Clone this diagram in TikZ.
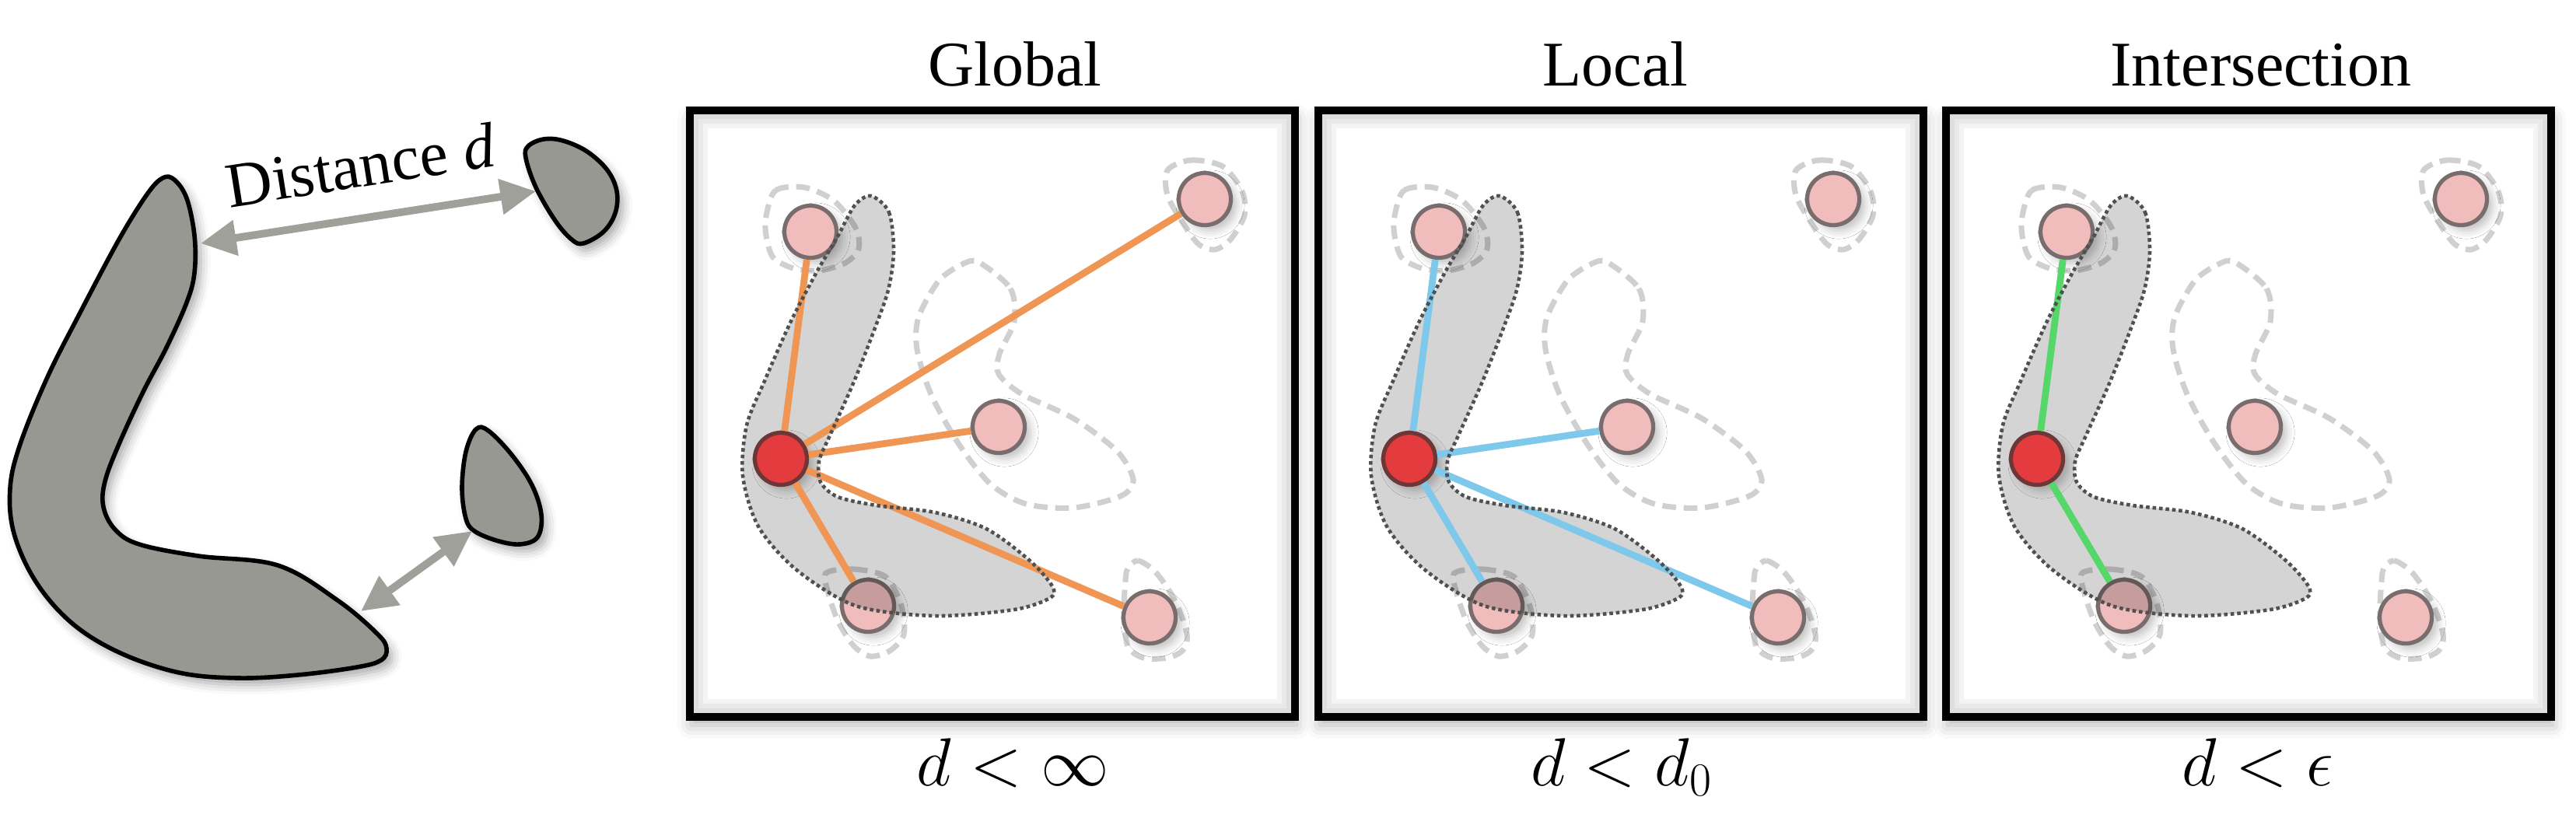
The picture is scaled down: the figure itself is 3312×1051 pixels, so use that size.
\documentclass[tikz,border=0pt]{standalone}
\usepackage{fontspec}
\setmainfont{Liberation Serif}
\usetikzlibrary{arrows.meta,shadows.blur}
\definecolor{shapegray}{RGB}{152,152,147}
\definecolor{arrowgray}{RGB}{160,160,155}
\definecolor{pinkfill}{RGB}{240,188,188}
\definecolor{pinkdraw}{RGB}{120,108,108}
\definecolor{redfill}{RGB}{228,60,62}
\definecolor{reddraw}{RGB}{110,55,55}
\definecolor{edgeorange}{RGB}{240,150,85}
\definecolor{edgeblue}{RGB}{125,200,235}
\definecolor{edgegreen}{RGB}{85,215,105}
\definecolor{dashgray}{RGB}{208,208,208}
\definecolor{dotgray}{RGB}{80,80,80}
\tikzset{
  every node/.style={inner sep=0pt},
  blobshape/.style={fill=shapegray, draw=black, line width=1.6pt,
    blur shadow={shadow xshift=2pt, shadow yshift=-2.5pt, shadow blur radius=3.5pt, shadow opacity=35}},
  distarrow/.style={draw=arrowgray, line width=2.8pt,
    {Triangle[length=13pt,width=12.5pt]}-{Triangle[length=13pt,width=12.5pt]}},
  panelbox/.style={draw=black, line width=3pt, fill=white,
    blur shadow={shadow xshift=0.5pt, shadow yshift=-3pt, shadow blur radius=5pt, shadow opacity=30}},
  pinknode/.style={circle, minimum size=0.67cm, fill=pinkfill, draw=pinkdraw, line width=1.5pt,
    blur shadow={shadow xshift=2pt, shadow yshift=-2pt, shadow blur radius=3pt, shadow opacity=25}},
  rednode/.style={pinknode, fill=redfill, draw=reddraw},
  edgeline/.style={line width=2.5pt},
  region/.style={fill=black, fill opacity=0.17},
  regionline/.style={draw=dotgray, line width=1.3pt, dash pattern=on 1.3pt off 1.1pt},
  dashline/.style={draw=dashgray, line width=2pt, dash pattern=on 5pt off 2.8pt},
  title/.style={font=\fontsize{23.3}{28}\selectfont, anchor=base},
  mathlabel/.style={font=\fontsize{26}{31}\selectfont, anchor=base},
}
\newcommand\regionpath{plot[smooth cycle] coordinates {(233,110) (256,131) (262,181) (255,231) (236,285) (210,351) (180,418) (166,451) (168,478) (190,497) (240,508) (315,517) (381,538) (437,579) (466,612) (463,627) (417,642) (315,650) (213,637) (136,590) (88,535) (68,470) (73,405) (96,348) (130,271) (163,208) (190,162) (212,122)}}
\newcommand\drawpanel[4]{%
\begin{scope}[shift={(#2,142)}]
  \draw[panelbox] (0,0) rectangle (778,780);
  \begin{scope}
    \clip (0,0) rectangle (778,780);
    \draw[black, opacity=0.045, line width=3.4pt] (5,5) rectangle (773,775);
    \draw[black, opacity=0.045, line width=6.8pt] (5,5) rectangle (773,775);
    \draw[black, opacity=0.045, line width=10.2pt] (5,5) rectangle (773,775);
  \end{scope}
  \draw[dashline] plot[smooth cycle] coordinates {(371,195) (412,229) (417,271) (398,313) (397,339) (427,365) (493,396) (549,438) (570,475) (554,496) (493,511) (432,506) (386,480) (345,428) (310,365) (292,307) (294,266) (320,219) (350,198)};
  \draw[dashline, shift={(155,156)}] plot[smooth cycle] coordinates {(-57,-20) (-45,-53) (-8,-57) (30,-40) (58,-5) (62,22) (45,40) (12,50) (-22,47) (-48,33) (-57,5)};
  \draw[dashline, shift={(662,114)}] plot[smooth cycle] coordinates {(-48,-37) (-18,-50) (23,-42) (48,-10) (51,21) (33,52) (13,65) (-8,58) (-28,31) (-48,-5)};
  \draw[dashline, shift={(229,637)}] plot[smooth cycle] coordinates {(-54,-42) (-18,-47) (23,-37) (43,0) (46,37) (28,58) (3,65) (-18,52) (-38,21) (-51,-16)};
  \draw[dashline, shift={(591,652)}] plot[smooth cycle] coordinates {(-28,-63) (-15,-73) (8,-58) (33,-21) (48,21) (43,42) (23,52) (-8,52) (-28,37) (-33,-5) (-31,-47)};
  \node[pinknode] (#1tl) at (155,156) {};
  \node[pinknode] (#1tr) at (662,114) {};
  \node[pinknode] (#1m)  at (397,407) {};
  \node[pinknode] (#1bl) at (229,637) {};
  \node[pinknode] (#1br) at (591,652) {};
  \fill[region] \regionpath;
  \node[rednode] (#1red) at (117,448) {};
  \foreach \tgt in {#4} \draw[edgeline, draw=#3] (#1red) -- (#1\tgt);
  \draw[regionline] \regionpath;
\end{scope}}
\begin{document}
\begin{tikzpicture}[x=0.01cm, y=-0.01cm]
\useasboundingbox (0,0) rectangle (3312,1051);
% left figure
\draw[blobshape] plot[smooth cycle, tension=0.6] coordinates {(148,681) (179,700) (255,715) (357,727) (434,772) (485,815) (497,834) (490,849) (459,858) (383,868) (306,872) (230,865) (153,839) (92,801) (46,748) (18,686) (13,628) (26,571) (61,485) (102,404) (153,308) (189,250) (209,229) (224,231) (240,255) (250,303) (250,351) (240,389) (214,447) (184,504) (153,571) (135,619) (133,652)};
\draw[blobshape] plot[smooth cycle, tension=0.6] coordinates {(679,188) (699,179) (724,181) (755,195) (781,219) (793,246) (791,274) (776,298) (750,313) (735,308) (714,284) (689,241) (676,203)};
\draw[blobshape] plot[smooth cycle, tension=0.6] coordinates {(612,552) (628,554) (658,585) (684,624) (696,662) (691,691) (668,700) (638,695) (610,683) (599,667) (594,628) (599,581)};
\coordinate (a1s) at (258,313);
\coordinate (a1e) at (689,246);
\coordinate (a2s) at (464,786);
\coordinate (a2e) at (607,683);
\draw[distarrow] (a1s) -- (a1e);
\draw[distarrow] (a2s) -- (a2e);
\node[font=\fontsize{23.3}{28}\selectfont, anchor=base, rotate=9] (dist) at (468,240) {Distance \textit{d}};
% panels
\drawpanel{g}{887}{edgeorange}{tl,tr,m,bl,br}
\drawpanel{l}{1695}{edgeblue}{tl,m,bl,br}
\drawpanel{i}{2502}{edgegreen}{tl,bl}
\node[title] (tg) at (1305,110) {Global};
\node[title] (tlo) at (2077,110) {Local};
\node[title] (ti) at (2907,110) {Intersection};
\node[mathlabel] (mg) at (1302,1010) {$d<\infty$};
\node[mathlabel] (ml) at (2085,1010) {$d<d_0$};
\node[mathlabel] (mi) at (2903,1010) {$d<\epsilon$};
\end{tikzpicture}
\end{document}
